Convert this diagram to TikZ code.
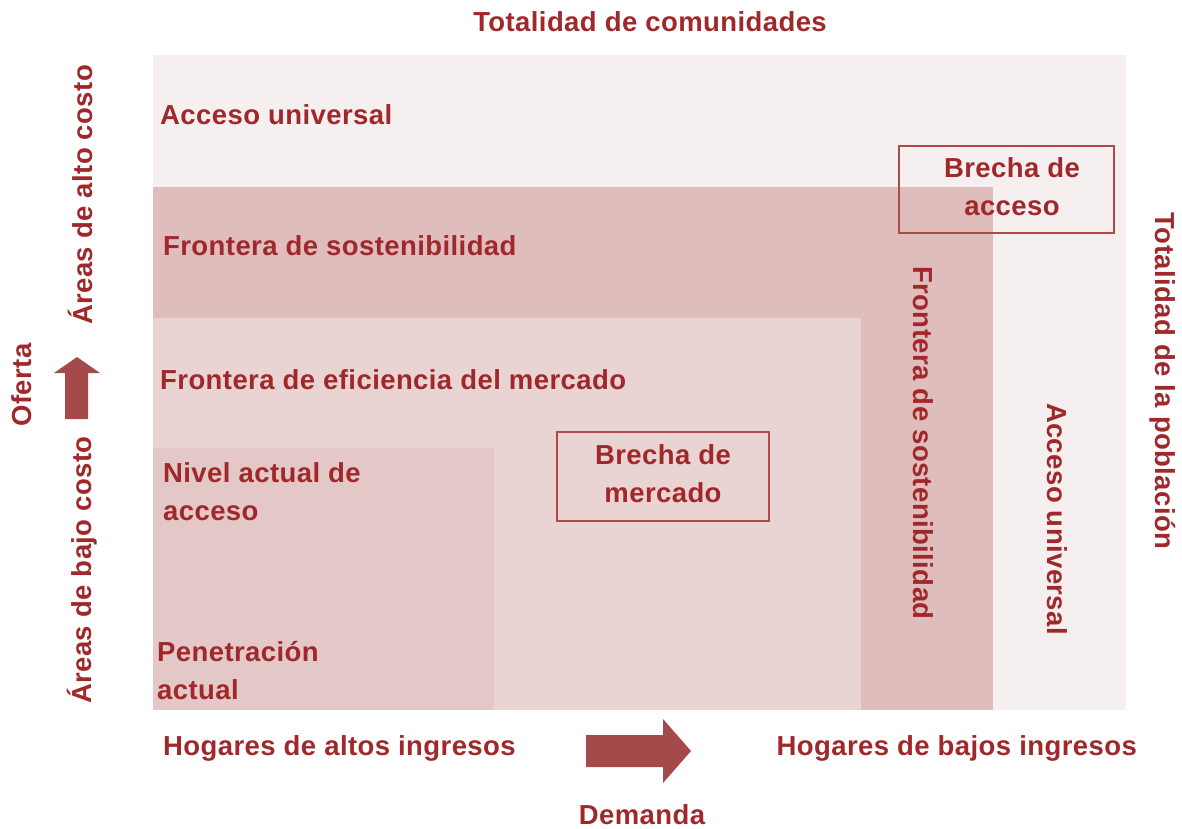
\documentclass[tikz,border=0pt]{standalone}
\usepackage{fontspec}
\setmainfont{Liberation Sans}[LetterSpace=1.5]
\definecolor{txt}{HTML}{A0282A}
\definecolor{arr}{HTML}{A54A4A}
\definecolor{bgA}{HTML}{F6EFEF}
\definecolor{bgB}{HTML}{E0BDBD}
\definecolor{bgC}{HTML}{E9D3D3}
\definecolor{bgD}{HTML}{E4C7C7}
\definecolor{boxc}{HTML}{B04A4A}
\tikzset{
  lbl/.style={text=txt,font=\bfseries\fontsize{27.5}{38}\selectfont,inner sep=0pt,align=left},
  lblc/.style={lbl,align=center},
  gapbox/.style={draw=boxc,line width=1.6pt},
}
\begin{document}
\begin{tikzpicture}[x=1pt,y=-1pt]
\useasboundingbox (0,0) rectangle (1182,829);
% regions
\fill[bgA] (153,55) rectangle (1126,710);
\fill[bgB] (153,187) rectangle (993,710);
\fill[bgC] (153,318) rectangle (861,710);
\fill[bgD] (153,448) rectangle (494,710);
% gap boxes
\draw[gapbox] (899,146) rectangle (1114,233);
\draw[gapbox] (557,432) rectangle (769,521);
% texts
\node[lblc] (tc) at (650,22) {Totalidad de comunidades};
\node[lbl,anchor=west] (au) at (160,115) {Acceso universal};
\node[lbl,anchor=west] (fs) at (163,246) {Frontera de sostenibilidad};
\node[lbl,anchor=west] (fe) at (160,380) {Frontera de eficiencia del mercado};
\node[lbl,anchor=west] (na) at (163,492) {Nivel actual de\\acceso};
\node[lbl,anchor=west] (pa) at (157,671) {Penetración\\actual};
\node[lblc] (bm) at (663,474) {Brecha de\\mercado};
\node[lblc] (ba) at (1012,187) {Brecha de\\acceso};
\node[lbl,rotate=-90] (fsv) at (923,443) {Frontera de sostenibilidad};
\node[lbl,rotate=-90] (auv) at (1057,519) {Acceso universal};
\node[lbl,rotate=-90] (tp) at (1163,381) {Totalidad de la población};
\node[lbl,rotate=90] (aac) at (80,195) {Áreas de alto costo};
\node[lbl,rotate=90] (abc) at (82,570) {Áreas de bajo costo};
\node[lbl,rotate=90] (of) at (22,385) {Oferta};
\node[lbl,anchor=west] (ha) at (163,748) {Hogares de altos ingresos};
\node[lbl,anchor=east] (hb) at (1137,748) {Hogares de bajos ingresos};
\node[lblc] (dm) at (642,815) {Demanda};
% arrows
\fill[arr] (65,419) -- (88,419) -- (88,373) -- (100,373) -- (77,357) -- (54,373) -- (65,373) -- cycle;
\fill[arr] (586,735) -- (663,735) -- (663,719) -- (691,751) -- (663,783) -- (663,767) -- (586,767) -- cycle;
\end{tikzpicture}
\end{document}
